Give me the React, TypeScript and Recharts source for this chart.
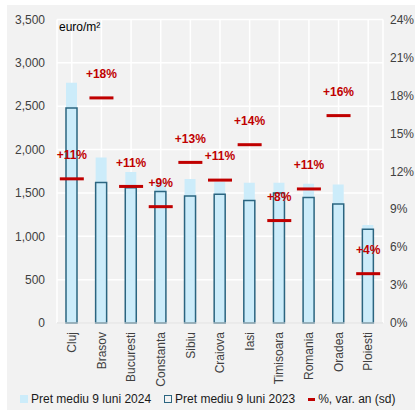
import { ComposedChart, Bar, Line, XAxis, YAxis, CartesianGrid, LabelList } from "recharts"

const cities = ["Cluj", "Brasov", "Bucuresti", "Constanta", "Sibiu", "Craiova", "Iasi", "Timisoara", "Romania", "Oradea", "Ploiesti"]
const pret2024 = [2770, 1910, 1740, 1640, 1660, 1630, 1617, 1617, 1605, 1597, 1130]
const pret2023 = [2480, 1620, 1560, 1516, 1466, 1486, 1412, 1498, 1447, 1371, 1080]
const varAn = [11.4, 17.8, 10.8, 9.2, 12.7, 11.3, 14.1, 8.1, 10.6, 16.4, 3.9]

const leftTicks = [0, 500, 1000, 1500, 2000, 2500, 3000, 3500]
const rightTicks = [0, 3, 6, 9, 12, 15, 18, 21, 24]

const data = cities.map((c, i) => ({ oras: c, p24: pret2024[i], p23: pret2023[i], pct: varAn[i] }))

const RED = "#c00000"
const TXT = "#404040"
const FONT = "Arial, 'Liberation Sans', sans-serif"

const Dash = (props: any) => {
  const { cx, cy } = props
  if (cx == null || cy == null) return null
  return <rect x={cx - 12} y={cy - 1.5} width={24} height={3} fill={RED} />
}

const PctLabel = (props: any) => {
  const { x, y, value } = props
  return (
    <text x={x} y={y - 24} dy="0.35em" textAnchor="middle" fill={RED} fontSize={12} fontWeight="bold" fontFamily={FONT}>
      {`+${Math.round(value)}%`}
    </text>
  )
}

const CityTick = (props: any) => {
  const { x, y, payload } = props
  return (
    <text x={x} y={y} transform={`rotate(-90, ${x}, ${y})`} textAnchor="end" dy="0.35em" fill={TXT} fontSize={12} fontFamily={FONT}>
      {payload.value}
    </text>
  )
}

export default function App() {
  return (
    <div style={{ position: "absolute", left: 0, top: 0, width: 415, height: 410, background: "#fff" }}>
      <div style={{ position: "absolute", left: 7, top: 5, width: 408, height: 405, background: "#f2f2f2", fontFamily: FONT }}>
        <ComposedChart width={408} height={405} data={data} margin={{ top: 14.5, right: 0, left: 0, bottom: 0 }}>
          <CartesianGrid stroke="#ffffff" strokeWidth={1.5} xAxisId="a" yAxisId="left" />
          <XAxis xAxisId="a" dataKey="oras" height={87} interval={0} tick={<CityTick />} tickLine={false} axisLine={{ stroke: "#d9d9d9" }} tickMargin={3} />
          <XAxis xAxisId="b" dataKey="oras" hide />
          <YAxis yAxisId="left" domain={[0, 3500]} ticks={leftTicks} width={50} tickLine={false} axisLine={false}
            tickMargin={6} tick={{ fill: TXT, fontSize: 12, fontFamily: FONT }}
            tickFormatter={(v) => v.toLocaleString("en-US")} />
          <YAxis yAxisId="right" orientation="right" domain={[0, 24]} ticks={rightTicks} width={32} tickLine={false} axisLine={false}
            tickMargin={1} tick={{ fill: TXT, fontSize: 12, fontFamily: FONT, textAnchor: "start" }}
            tickFormatter={(v) => `${v}%`} />
          <Bar xAxisId="a" yAxisId="left" dataKey="p24" fill="#ccecfa" barSize={11} isAnimationActive={false} />
          <Bar xAxisId="b" yAxisId="left" dataKey="p23" fill="none" stroke="#2b6580" strokeWidth={1.5} barSize={11} isAnimationActive={false} />
          <Line xAxisId="a" yAxisId="right" dataKey="pct" stroke="none" dot={<Dash />} activeDot={false} isAnimationActive={false}>
            <LabelList dataKey="pct" content={<PctLabel />} />
          </Line>
          <text x={52} y={22} dy="0.35em" fill="#000" fontSize={12} fontFamily={FONT}>euro/m²</text>
        </ComposedChart>
        <div style={{ position: "absolute", left: 13, top: 387, display: "flex", alignItems: "center", fontSize: 12, color: "#1a1a1a", whiteSpace: "nowrap" }}>
          <span style={{ width: 8, height: 8, background: "#ccecfa", marginRight: 3 }} />
          <span style={{ marginRight: 13 }}>Pret mediu 9 luni 2024</span>
          <span style={{ width: 6, height: 6, border: "1px solid #2b6580", marginRight: 3 }} />
          <span style={{ marginRight: 13 }}>Pret mediu 9 luni 2023</span>
          <span style={{ width: 7, height: 3, background: RED, marginRight: 3 }} />
          <span>%, var. an (sd)</span>
        </div>
      </div>
    </div>
  )
}
